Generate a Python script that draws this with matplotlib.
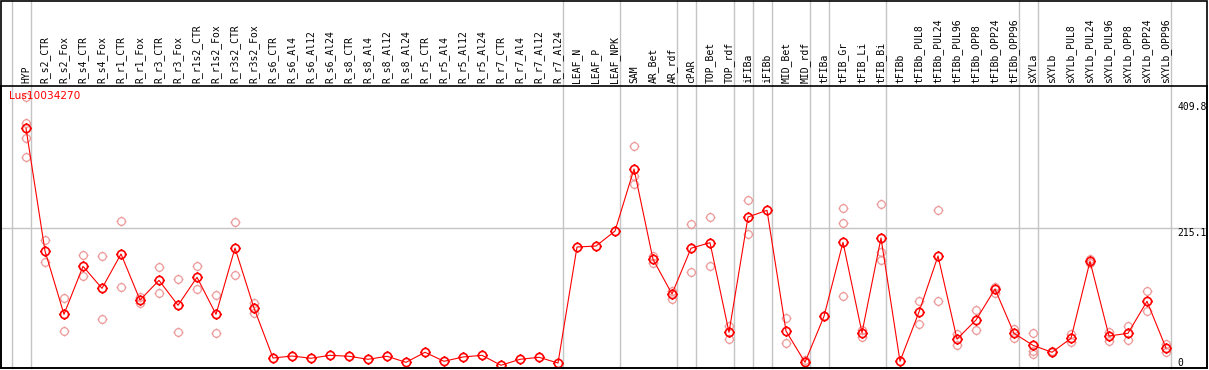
import matplotlib
matplotlib.use("Agg")
import matplotlib.pyplot as plt
from matplotlib.path import Path
from matplotlib.patches import Rectangle
import numpy as np

title = "Lus10034270"

categories = [
    "HYP",
    "R_s2_CTR", "R_s2_Fox", "R_s4_CTR", "R_s4_Fox", "R_r1_CTR", "R_r1_Fox",
    "R_r3_CTR", "R_r3_Fox", "R_r1s2_CTR", "R_r1s2_Fox", "R_r3s2_CTR", "R_r3s2_Fox",
    "R_s6_CTR", "R_s6_Al4", "R_s6_Al12", "R_s6_Al24", "R_s8_CTR", "R_s8_Al4",
    "R_s8_Al12", "R_s8_Al24", "R_r5_CTR", "R_r5_Al4", "R_r5_Al12", "R_r5_Al24",
    "R_r7_CTR", "R_r7_Al4", "R_r7_Al12", "R_r7_Al24",
    "LEAF_N", "LEAF_P", "LEAF_NPK",
    "SAM", "AR_Bet", "AR_rdf",
    "cPAR",
    "TOP_Bet", "TOP_rdf",
    "iFIBa",
    "iFIBb",
    "MID_Bet", "MID_rdf",
    "tFIBa",
    "tFIB_Gr", "tFIB_Li", "tFIB_Bi",
    "tFIBb", "tFIBb_PUL8", "tFIBb_PUL24", "tFIBb_PUL96", "tFIBb_OPP8",
    "tFIBb_OPP24", "tFIBb_OPP96",
    "sXYLa",
    "sXYLb", "sXYLb_PUL8", "sXYLb_PUL24", "sXYLb_PUL96", "sXYLb_OPP8",
    "sXYLb_OPP24", "sXYLb_OPP96",
]

# mean expression values (line)
means = [
    370.4,
    179.8, 81.4, 156.0, 121.8, 175.1, 103.6, 134.2, 95.4, 138.9, 81.4, 184.4, 91.2,
    13.5, 16.6, 13.1, 17.7, 16.2, 11.5, 16.2, 6.8, 22.4, 8.4, 15.1, 17.7,
    2.2, 11.5, 14.6, 5.7,
    186.0, 187.5, 210.8,
    307.2, 166.9, 113.0,
    184.0,
    192.7, 53.4,
    232.6,
    243.0,
    55.5, 6.8,
    78.3,
    193.3, 52.8, 200.0,
    8.4, 85.0, 172.0, 43.0, 72.6, 120.7, 51.9,
    33.2,
    22.4, 44.1, 163.8, 47.7, 51.9, 101.6, 29.0,
]

# individual replicate values (pale circles)
replicates = [
    [418.6, 378.2, 355.8, 326.3],
    [196.9, 162.2], [106.3, 55.5], [173.1, 140.9], [171.5, 73.6], [225.9, 123.4],
    [107.8, 98.5], [154.4, 114.5], [135.8, 53.5], [156.5, 120.3], [110.9, 51.9],
    [224.4, 142.0], [98.5, 83.0],
    [], [], [], [], [], [], [], [], [], [], [], [], [], [], [], [],
    [], [], [],
    [342.9, 296.3, 283.9], [172.0, 160.7], [118.1, 105.2],
    [221.3, 147.6],
    [232.1, 156.0], [63.7, 43.5],
    [258.5, 205.7],
    [],
    [75.2, 36.4], [10.4],
    [79.5],
    [246.6, 222.8, 109.4], [57.0, 45.7], [252.3, 178.7, 165.8],
    [], [101.6, 65.9], [243.5, 101.6], [50.3, 33.7], [88.1, 57.0], [124.3, 115.0],
    [58.6, 45.0],
    [52.4, 24.4, 19.3],
    [24.0], [50.8, 37.9], [167.8, 161.1], [54.4, 39.5], [63.2, 41.0], [117.2, 86.0],
    [35.3, 22.4],
]

# index of the last category in each group (a separator follows it)
group_ends = [-1, 0, 28, 31, 34, 35, 37, 38, 39, 41, 42, 45, 52, 53, 60]

ytick_values = [0, 215.1, 409.8]
ytick_labels = ["0", "215.1", "409.8"]

W, H = 1209, 370
fig = plt.figure(figsize=(W / 100, H / 100), dpi=100)

ax_left, ax_right, ax_top, ax_bottom = 1, 1207, 86, 368
ax = fig.add_axes([ax_left / W, (H - ax_bottom) / H,
                   (ax_right - ax_left) / W, (ax_bottom - ax_top) / H])

x0_px, dx_px = 26, 19
ax.set_xlim((ax_left - x0_px) / dx_px, (ax_right - x0_px) / dx_px)
y0_px, ppu = 366.7, 0.6436
ax.set_ylim((y0_px - ax_bottom) / ppu, (y0_px - ax_top) / ppu)

ax.set_xticks([])
ax.set_yticks([])
for s in ax.spines.values():
    s.set_color("black")
    s.set_linewidth(1.2)

# marker: circle with four small ticks
circ = Path.unit_circle()
ticks = []
for dx, dy in [(0, 1), (0, -1), (1, 0), (-1, 0)]:
    ticks.append(Path([(dx * 1.0, dy * 1.0), (dx * 1.3, dy * 1.3)],
                      [Path.MOVETO, Path.LINETO]))
sun = Path.make_compound_path(circ, *ticks)

grid_col = "#c4c4c4"
extend = (ax_bottom - 0) / (ax_bottom - ax_top)
for g in group_ends:
    ax.axvline(g + 0.24, ymin=0, ymax=extend, color=grid_col, lw=1.0,
               clip_on=False, zorder=0.5)
ax.axhline(215.1, color=grid_col, lw=1.0, zorder=0.5)

x = np.arange(len(categories))

# replicates
rx, ry = [], []
for i, reps in enumerate(replicates):
    for v in reps:
        rx.append(i)
        ry.append(v)
ax.plot(rx, ry, linestyle="none", marker=sun, markersize=7.2,
        markerfacecolor="none", markeredgecolor="#ec9a9a", markeredgewidth=0.9,
        zorder=2)

# mean line
ax.plot(x, means, color="#ff0000", lw=0.8, marker=sun, markersize=7.6,
        markerfacecolor="none", markeredgecolor="#ff0000", markeredgewidth=1.2,
        zorder=3)

# category labels (rotated) above plot
for i, lab in enumerate(categories):
    ax.annotate(lab, xy=(i, 1), xycoords=("data", "axes fraction"),
                xytext=(0, 2), textcoords="offset points",
                rotation=90, ha="center", va="bottom",
                fontsize=7, family="DejaVu Sans Mono", color="black",
                annotation_clip=False)

# title inside plot
fig.text(9 / W, 1 - 91 / H, title, color="#ff0000", fontsize=7.6,
         family="DejaVu Sans", ha="left", va="top")

# y value labels on the right
label_tops = {"409.8": 102.5, "215.1": 228.5, "0": 358.5}
for v, lab in zip(ytick_values, ytick_labels):
    fig.text(1177 / W, 1 - label_tops[lab] / H, lab, fontsize=7,
             family="DejaVu Sans Mono", ha="left", va="top", color="black")

# outer border of whole figure
fig.add_artist(Rectangle((ax_left / W, (H - ax_bottom) / H),
                         (ax_right - ax_left) / W, (ax_bottom - 0.6) / H,
                         transform=fig.transFigure, fill=False,
                         edgecolor="black", lw=1.2))

fig.savefig("out.png", dpi=100, facecolor="white")
